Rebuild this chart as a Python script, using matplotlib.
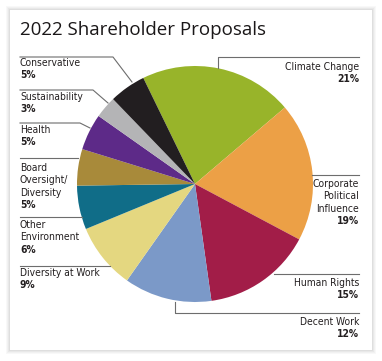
import matplotlib.pyplot as plt
from matplotlib.patches import Rectangle

# Datos del gráfico (en el orden de las agujas del reloj desde arriba)
categorias = ["Climate Change", "Corporate\nPolitical\nInfluence", "Human Rights",
              "Decent Work", "Diversity at Work", "Other\nEnvironment",
              "Board\nOversight/\nDiversity", "Health", "Sustainability", "Conservative"]
porcentajes = [21, 19, 15, 12, 9, 6, 5, 5, 3, 5]
colores = ["#98b42a", "#eca046", "#a21d48", "#7b99c8", "#e4d780",
           "#106d88", "#a88a3a", "#5d2a88", "#b4b4b6", "#221e20"]

W, H = 382, 361
fig = plt.figure(figsize=(W / 100, H / 100), dpi=100)
ax = fig.add_axes([0, 0, 1, 1])

def Y(y):
    return H - y

# Marco con sombra
for i, a in enumerate([0.05, 0.06, 0.08, 0.10]):
    d = 4 - i
    ax.add_patch(Rectangle((10 - d, Y(350) - d), 362 + 2 * d, 340 + 2 * d,
                           facecolor='#888888', edgecolor='none', alpha=a, zorder=0))
ax.add_patch(Rectangle((10, Y(350)), 362, 340, facecolor='white',
                       edgecolor='none', zorder=1))

ax.text(20, Y(30), "2022 Shareholder Proposals", fontsize=13.5, family='Open Sans',
        va='center', ha='left', color='#1a1718', zorder=5)

ax.pie(porcentajes, colors=colores, startangle=116, counterclock=False,
       center=(195, Y(184)), radius=118, frame=True,
       wedgeprops=dict(linewidth=0, zorder=3))
ax.set_xlim(0, W)
ax.set_ylim(0, H)
ax.set_aspect('equal')
ax.axis('off')

gris = '#6d6d6d'
def linea(xs, ys):
    ax.plot(xs, [Y(v) for v in ys], color=gris, lw=0.8, zorder=4)

# Líneas guía
linea([20, 113, 132], [57, 57, 82])
linea([20, 93, 108], [90, 90, 103])
linea([20, 80, 90], [123, 123, 128])
linea([20, 78], [158, 158])
linea([20, 82], [217, 217])
linea([20, 110], [266, 266])
linea([218, 218, 359], [68, 57, 57])
linea([312, 359], [175, 175])
linea([274, 359], [274, 274])
linea([175, 175, 359], [302, 313, 313])

# Etiquetas: (x, y superior, alineación)
posiciones = {
    9: (20, 63, 'left'),
    8: (20, 97, 'left'),
    7: (20, 130, 'left'),
    6: (20, 168, 'left'),
    5: (20, 225, 'left'),
    4: (20, 273, 'left'),
    0: (359, 67, 'right'),
    1: (359, 184, 'right'),
    2: (359, 283, 'right'),
    3: (359, 322, 'right'),
}
paso = 12.4
estilo = dict(fontsize=7.4, family='DejaVu Sans', fontstretch='condensed',
              va='center', color='#231f20', zorder=5)
for i, (x, y, ha) in posiciones.items():
    lineas = categorias[i].split("\n")
    for k, t in enumerate(lineas):
        ax.text(x, Y(y + k * paso), t, ha=ha, **estilo)
    ax.text(x, Y(y + len(lineas) * paso), f"{porcentajes[i]}%", ha=ha,
            weight='bold', **estilo)

fig.savefig("out.png", dpi=100)
